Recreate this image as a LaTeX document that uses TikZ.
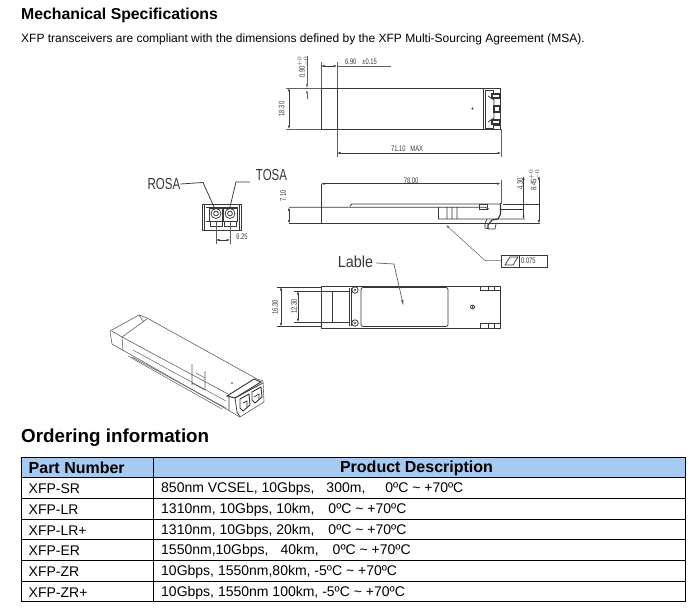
\documentclass[tikz,border=0pt]{standalone}
\usepackage{fontspec}
\setmainfont{Liberation Sans}
\newfontfamily\cad[FakeStretch=0.72]{Liberation Sans}
\usetikzlibrary{arrows.meta}
\definecolor{cadgray}{gray}{0.22}
\definecolor{headblue}{HTML}{A6CAF0}
\tikzset{
  px/.style={x=1pt,y=-1pt},
  cadline/.style={draw=cadgray,line width=0.75pt},
  thin cad/.style={draw=cadgray!80,line width=0.5pt},
  heavy/.style={draw=black!80,line width=1.1pt},
  dim/.style={draw=cadgray,line width=0.5pt,{Latex[length=3.5pt,width=2.2pt]}-{Latex[length=3.5pt,width=2.2pt]}},
  cadtext/.style={font=\cad\fontsize{8}{8}\selectfont,text=cadgray,inner sep=0pt},
  handtext/.style={font=\cad\fontsize{16}{16}\selectfont,text=cadgray,inner sep=0pt},
  body/.style={font=\fontsize{12}{13}\selectfont,inner sep=0pt,anchor=west,text=black},
  cell/.style={font=\fontsize{14}{15}\selectfont,inner sep=0pt,anchor=west,text=black},
  headcell/.style={font=\bfseries\fontsize{16}{17}\selectfont,inner sep=0pt,text=black},
  rule/.style={draw=black,line width=0.9pt},
}
\begin{document}
\begin{tikzpicture}[px]
\useasboundingbox (0,0) rectangle (692,607);
\fill[white] (0,0) rectangle (692,607);
% headings
\node[anchor=west,inner sep=0pt,font=\bfseries\fontsize{15.8}{16}\selectfont] (title) at (21,15.5) {Mechanical Specifications};
\node[body] (intro) at (21,39) {XFP transceivers are compliant with the dimensions defined by the XFP Multi-Sourcing Agreement (MSA).};
\node[anchor=west,inner sep=0pt,font=\bfseries\fontsize{18.8}{19}\selectfont] (order) at (21,437.5) {Ordering information};
% ---------- top view
\draw[cadline] (321,88) -- (500.5,88) -- (500.5,129) -- (321,129) -- cycle;
\draw[cadline] (321,88.5) -- (337,88.5) -- (337,128.5);
\draw[cadline] (483,88) -- (483,129);
\draw[cadline] (485,90) -- (493,90) -- (493,93) -- (500,93) -- (500,125) -- (493,125) -- (493,128) -- (485,128) -- cycle;
\draw[cadline] (488,96) -- (494,100) -- (494,106) -- (500,106) (500,112) -- (494,112) -- (494,118) -- (488,122);
\draw[heavy] (492,94) rectangle (500,98) (494,106) rectangle (500,112) (492,120) rectangle (500,124);
\fill[cadgray] (472.5,108.5) circle (1.2);
\draw[thin cad] (286,88) -- (321,88) (286,129) -- (321,129) (321,62) -- (321,88) (337,62) -- (337,88) (337,129) -- (337,157) (501,129) -- (501,157);
\draw[dim] (289,88) -- (289,129);
\node[cadtext,rotate=90] (a1) at (281.5,109) {18.30};
\draw[thin cad,-{Latex[length=3.5pt,width=2.2pt]}] (307,56) -- (307,88);
\draw[thin cad,-{Latex[length=3.5pt,width=2.2pt]}] (307,99) -- (307,90);
\node[cadtext,rotate=90] (a2) at (303,67) {0.90$^{+0}_{-0}$};
\draw[dim] (321,66) -- (337,66);
\draw[thin cad] (337,66) -- (391,66);
\node[cadtext,anchor=west] (a3) at (345,61.5) {6.90\hspace{6pt}±0.15};
\draw[dim] (337,153) -- (501,153);
\node[cadtext] (a4) at (407,149) {71.10\hspace{5pt}MAX};
% ---------- side view
\draw[cadline] (289,207.3) -- (438,207.3) (350,206) -- (352,204) -- (500,204);
\draw[cadline] (289,223.5) -- (540,223.5);
\draw[cadline] (438.5,207.3) rectangle (457,219) (447,207.3) -- (447,219) (452,207.3) -- (452,219) (457,207.3) -- (485,207.3) -- (489,209) (457,219) -- (525,219);
\draw[cadline] (503,204) -- (540,204) (500,209) -- (524,209);
\draw[cadline] (479,204.5) rectangle (487,209);
\draw[heavy] (500.5,203) -- (500.5,214) -- (498,219) -- (492,220) -- (488,225) -- (488,229);
\draw[cadline] (487,219) -- (485,223.5) (485,223.5) -- (485,228) -- (490,229) -- (495,229) -- (496,224);
\draw[cadline] (321,184) -- (321,223.5);
\draw[thin cad] (501,180) -- (501,204);
\draw[dim] (321,183.7) -- (500.5,183.7);
\node[cadtext] (b1) at (411,180.5) {78.00};
\draw[dim] (289,207.3) -- (289,223.5);
\node[cadtext,rotate=90] (b2) at (283,196) {7.10};
\draw[dim] (523.5,176) -- (523.5,219);
\node[cadtext,rotate=90] (b3) at (520,184) {4.30};
\draw[dim] (539,176) -- (539,223.5);
\node[cadtext,rotate=90] (b4) at (534.5,180) {8.45$^{+0}_{-0}$};
\draw[thin cad,{Latex[length=3.5pt,width=2.2pt]}-] (446,225) -- (485,260.5) -- (501,260.5);
\node[draw=cadgray,line width=0.6pt,minimum width=46pt,minimum height=12pt,inner sep=0pt] (tol) at (524,261) {};
\draw[cadline] (519,255) -- (519,267);
\draw[cadline] (505,265) -- (510,257) -- (518,257) -- (513,265) -- cycle;
\node[cadtext,anchor=west] (tolv) at (521,261) {0.075};
% ---------- bottom view
\draw[cadline] (321,286) -- (500,286) -- (500,328) -- (321,328) -- cycle;
\draw[cadline] (277,287) -- (321,287) (277,326.5) -- (321,326.5) (294,291) -- (349,291) (294,322) -- (349,322);
\draw[cadline] (332.5,291) -- (332.5,322) (349,288) -- (349,326) (351,288) -- (351,326);
\draw[dim] (281,287) -- (281,326.5);
\node[cadtext,rotate=90] (c1) at (275,307) {16.30};
\draw[dim] (298,291) -- (298,322);
\node[cadtext,rotate=90] (c2) at (294,306.5) {12.30};
\draw[cadline] (363,287.5) -- (446,287.5) arc (-90:0:2) -- (448,324.5) arc (0:90:2) -- (363,326.5) arc (90:180:2) -- (361,289.5) arc (180:270:2);
\draw[cadline] (355,290) circle (3.2) (355,323) circle (3.2);
\fill[cadgray] (355,290) circle (1.1) (355,323) circle (1.1);
\draw[cadline] (472.5,307) circle (2);
\fill[cadgray] (472.5,307) circle (1);
\draw[cadline] (480,286) rectangle (500,290.5) (488,286) -- (488,290.5) (494,286) -- (494,290.5);
\draw[cadline] (480,323.5) rectangle (500,328) (488,323.5) -- (488,328) (494,323.5) -- (494,328);
\node[handtext] (lable) at (355.5,262) {\scalebox{1.25}[1]{Lable}};
\coordinate (lableEnd) at (403.5,306);
\draw[thin cad,line width=0.7pt,-{Latex[length=6pt,width=2.5pt]}] (lable.east) ++(3,1) -- (394,264) -- (lableEnd);
% ---------- front view
\draw[cadline] (202,204) rectangle (241.5,230);
\draw[cadline] (204,204) -- (204,230) (239.5,204) -- (239.5,230) (206,221) -- (238,221) (206,207) -- (238,207);
\draw[cadline] (209,208) rectangle (222.5,221) (223.5,208) rectangle (237,221);
\draw[cadline] (216,213.5) circle (5) (230,213.5) circle (5);
\draw[cadline] (216,213.5) circle (2.4) (230,213.5) circle (2.4);
\draw[cadline] (210,221) -- (210,226) -- (222,226) -- (222,221) (224,221) -- (224,226) -- (236,226) -- (236,221);
\node[handtext] (rosa) at (164,184) {ROSA};
\node[handtext] (tosa) at (271.5,175) {TOSA};
\coordinate (rosaTip) at (215,209);
\coordinate (tosaTip) at (229.5,209);
\draw[cadline] (rosa.east) -- (203,182.5) -- (rosaTip);
\draw[cadline] (250,182) -- (236,182) -- (tosaTip);
\draw[thin cad] (216,222) -- (216,244) (230,222) -- (230,244);
\draw[dim] (216,240) -- (230,240);
\node[cadtext] (f1) at (242,237) {6.25};
% ---------- isometric view
\draw[thin cad,line width=0.6pt,line join=round] (110,331) -- (139,315) -- (147,318) -- (257,379) -- (263,381) -- (264,402) -- (240,417) -- (228,410) -- (112,344) -- cycle;
\draw[thin cad,line width=0.6pt] (122,337) -- (147,319) (122,337) -- (112,331) (122,337) -- (123,351) (139,315) -- (143,321);
\draw[thin cad,line width=0.6pt] (122,337) -- (228,394);
\draw[thin cad] (133,350) -- (226,401) (128,356) -- (222,409) (132,357) -- (226,408);
\draw[thin cad,line width=0.6pt] (192,385) -- (192,383) (192,383) -- (192,364) (192,383) -- (205,390) -- (205,371);
\draw[thin cad] (196,373) -- (205,378);
\draw[heavy,line width=0.9pt] (227,396) -- (254,379) -- (261,382) -- (235,398) -- cycle;
\draw[cadline] (229,396) -- (229,410) (235,398) -- (237,412) -- (240,417);
\draw[cadline] (235,398) -- (263,383);
\draw[heavy,line width=0.9pt] (240,399) -- (249,394) -- (250,405) -- (243,411) -- (240,408) -- cycle;
\draw[heavy,line width=0.9pt] (252,392) -- (261,387) -- (262,397) -- (255,403) -- (252,400) -- cycle;
\draw[cadline] (243,403) -- (247,401) -- (247,407) (254,397) -- (259,394) -- (259,399);
\fill[cadgray] (232,383) circle (0.8);
% ---------- table
\fill[headblue] (21,457.5) rectangle (685,477.5);
\draw[rule] (21,457.5) rectangle (685,601.5);
\draw[rule] (153,457.5) -- (153,601.5);
\foreach \yy in {477.5,498.3,519,539.3,560.3,581.3} \draw[rule] (21,\yy) -- (685,\yy);
\node[headcell,anchor=west] (h1) at (28.5,468) {Part Number};
\node[headcell] (h2) at (416.5,468) {Product Description};
\foreach \yy/\nm/\p/\d in {
 489/r1/XFP-SR/{850nm VCSEL, 10Gbps,\hspace{12pt}300m,\hspace{20pt}0ºC \textasciitilde\ +70ºC},
 510/r2/XFP-LR/{1310nm, 10Gbps, 10km,\hspace{14pt}0ºC \textasciitilde\ +70ºC},
 530.5/r3/XFP-LR+/{1310nm, 10Gbps, 20km,\hspace{14pt}0ºC \textasciitilde\ +70ºC},
 551/r4/XFP-ER/{1550nm,10Gbps,\hspace{12pt}40km,\hspace{14pt}0ºC \textasciitilde\ +70ºC},
 572/r5/XFP-ZR/{10Gbps, 1550nm,80km, -5ºC \textasciitilde\ +70ºC},
 593/r6/XFP-ZR+/{10Gbps, 1550nm 100km, -5ºC \textasciitilde\ +70ºC}}
 {
  \node[cell] (\nm p) at (28.5,\yy) {\p};
  \node[cell] (\nm d) at (161,\yy) {\d};
 }
\end{tikzpicture}
\end{document}
